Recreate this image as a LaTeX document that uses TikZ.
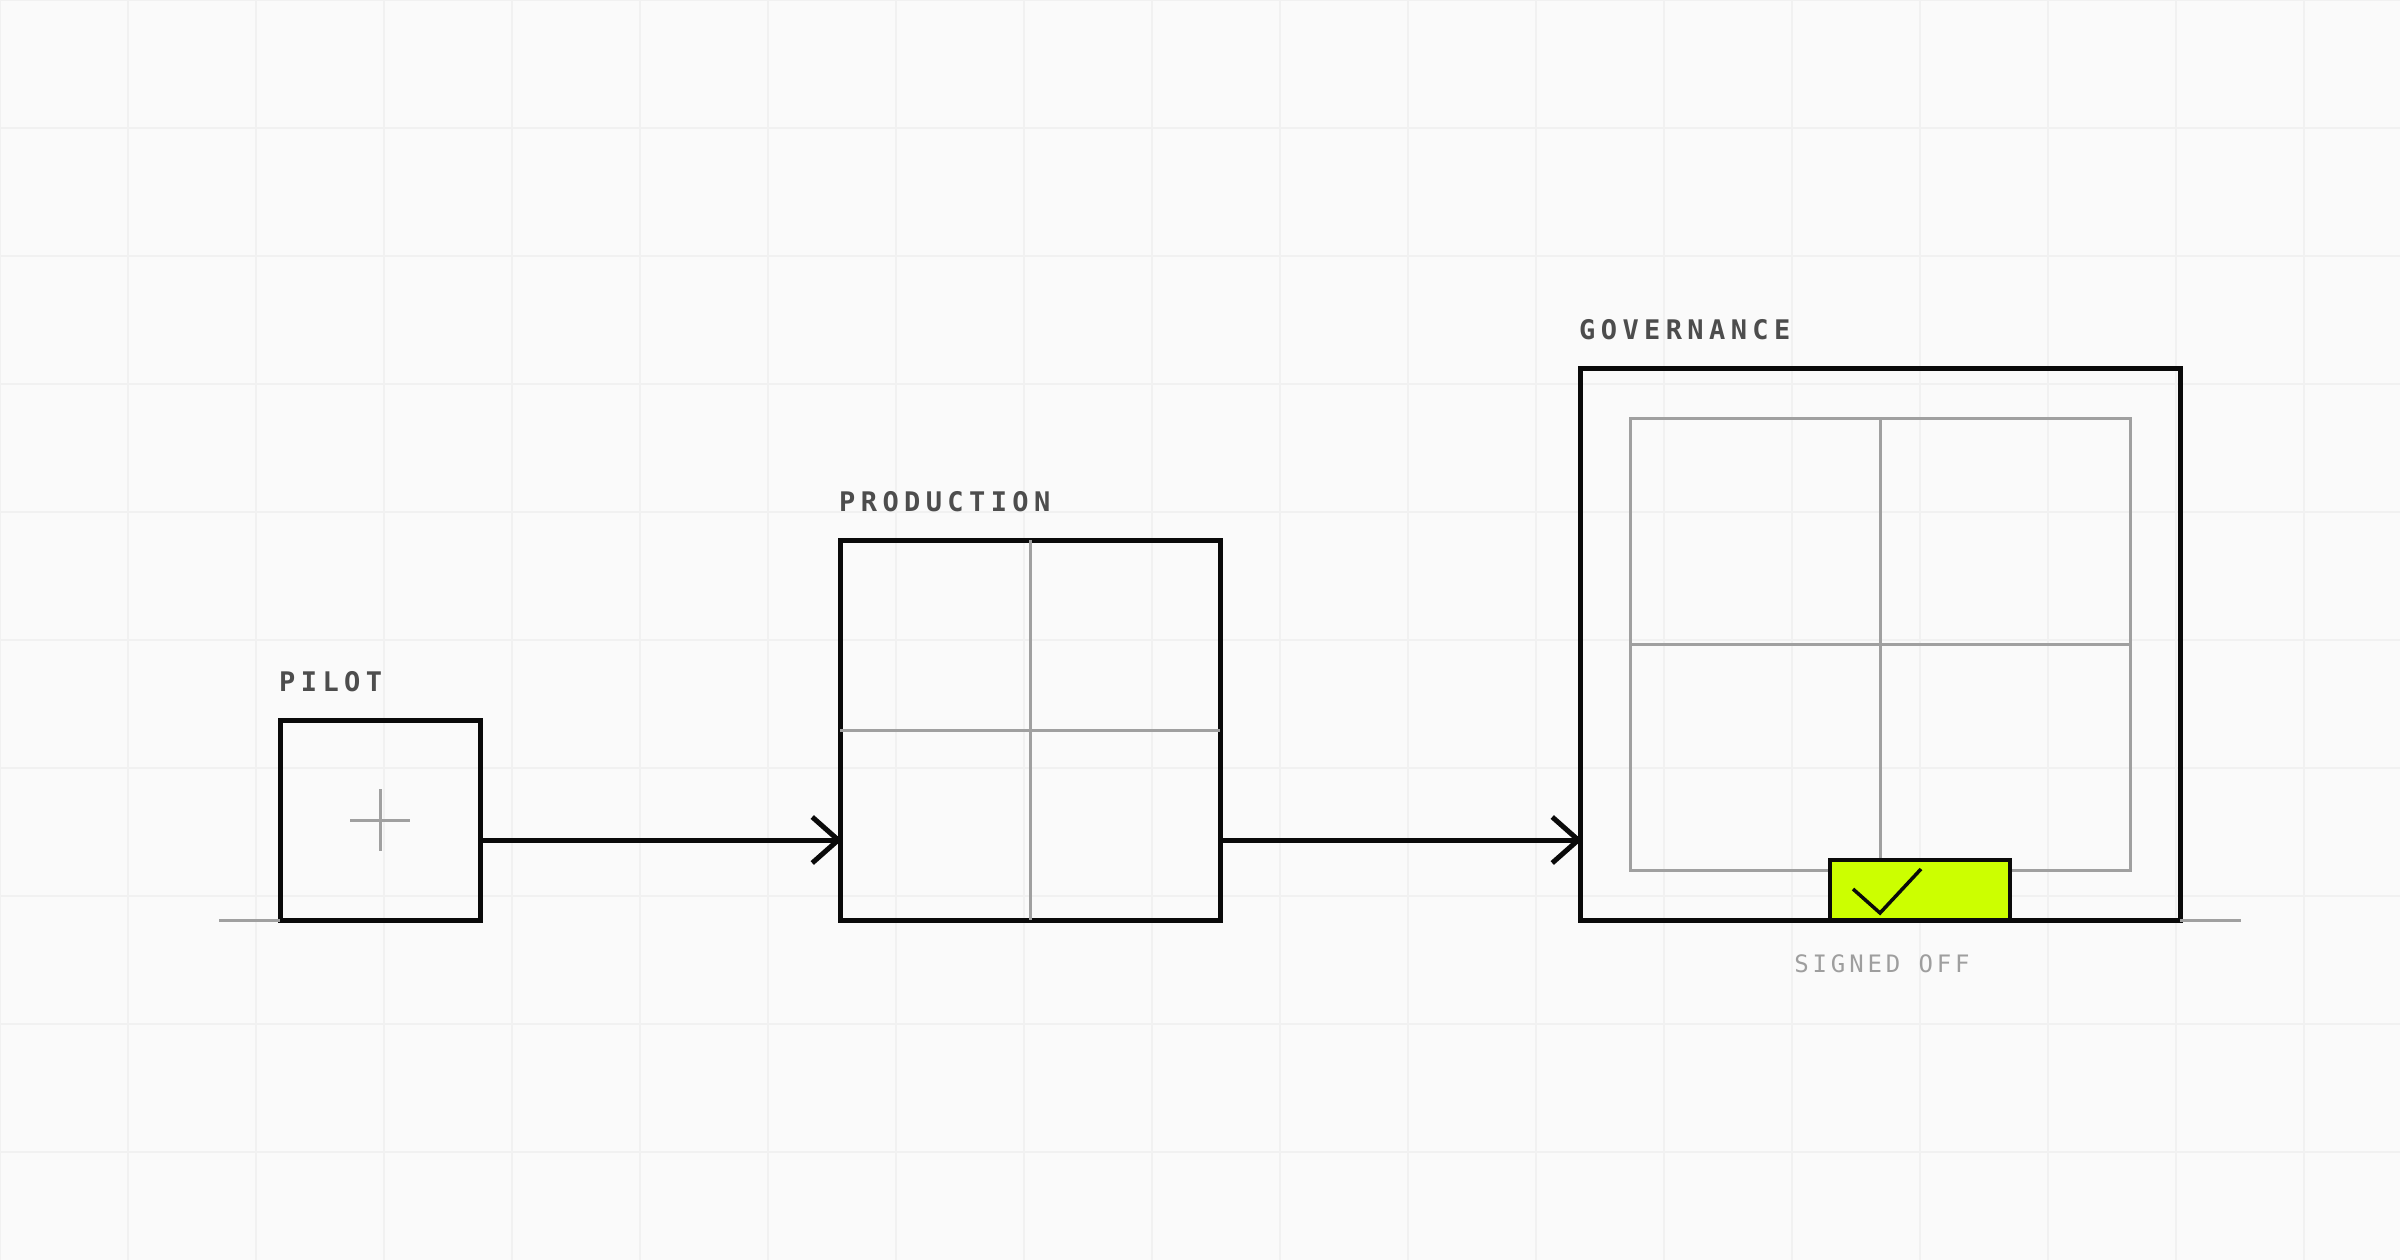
\documentclass[tikz,border=0pt]{standalone}
\usepackage{fontspec}
\usetikzlibrary{arrows.meta}
\newfontfamily\lblfont[LetterSpace=20]{DejaVu Sans Mono}
\newfontfamily\subfont[LetterSpace=16]{DejaVu Sans Mono}
\definecolor{bg}{HTML}{FAFAFA}
\definecolor{gridc}{HTML}{F1F1F1}
\definecolor{ink}{HTML}{0A0A0A}
\definecolor{greyl}{HTML}{A0A0A0}
\definecolor{lblc}{HTML}{4D4D4D}
\definecolor{subc}{HTML}{9E9E9E}
\definecolor{lime}{HTML}{CCFF00}
\tikzset{
  bigbox/.style={draw=ink, line width=5pt, inner sep=0pt, outer sep=0pt, line join=miter},
  greyline/.style={draw=greyl, line width=3pt},
  lbl/.style={font=\lblfont\bfseries\fontsize{27}{27}\selectfont, text=lblc, inner sep=0pt, anchor=base west},
  sublbl/.style={font=\subfont\fontsize{24}{24}\selectfont, text=subc, inner sep=0pt, anchor=base},
  flow/.style={draw=ink, line width=5pt, shorten >=-2pt, -{Straight Barb[length=26pt, width=46pt, line join=miter]}},
}
\begin{document}
\begin{tikzpicture}[x=1pt, y=-1pt]
\useasboundingbox (0,0) rectangle (2400,1260);
\fill[bg] (0,0) rectangle (2400,1260);
% grid
\foreach \gx in {0,128,...,2400} { \draw[gridc, line width=2pt] (\gx,0) -- (\gx,1260); }
\foreach \gy in {0,128,...,1260} { \draw[gridc, line width=2pt] (0,\gy) -- (2400,\gy); }

% boxes
\node[bigbox, minimum width=200pt, minimum height=200pt] (pilot) at (380,820) {};
\node[bigbox, minimum width=380pt, minimum height=380pt] (prod) at (1030,730) {};
\node[bigbox, minimum width=600pt, minimum height=552pt] (gov) at (1880,644) {};

% baseline stubs
\coordinate (stubL) at (219,920);
\coordinate (stubR) at (2241,920);
\draw[greyline] (stubL) -- (pilot.south west);
\draw[greyline] (gov.south east) -- (stubR);

% pilot cross
\draw[greyline] ([xshift=-30pt]pilot.center) -- ([xshift=30pt]pilot.center);
\draw[greyline] ([yshift=31pt]pilot.center) -- ([yshift=-31pt]pilot.center);

% production inner grid
\draw[greyline] (prod.north) -- (prod.south);
\draw[greyline] (prod.west) -- (prod.east);

% governance inner
\node[draw=greyl, line width=3pt, inner sep=0pt, outer sep=0pt, minimum width=500pt, minimum height=452pt] (inner) at (1880,644) {};
\draw[greyline] (inner.north) -- (inner.south);
\draw[greyline] (inner.west) -- (inner.east);

% signed-off badge
\node[draw=ink, fill=lime, line width=4pt, inner sep=0pt, outer sep=0pt, minimum width=180pt, minimum height=60pt] (badge) at (1920,890) {};
\coordinate (c1) at (1853,889);
\coordinate (c2) at (1880,913);
\coordinate (c3) at (1921,869);
\draw[ink, line width=3.5pt] (c1) -- (c2) -- (c3);

% arrows
\coordinate (a1s) at (pilot.east |- 0,840);
\coordinate (a1e) at (prod.west |- 0,840);
\coordinate (a2s) at (prod.east |- 0,840);
\coordinate (a2e) at (gov.west |- 0,840);
\draw[flow] (a1s) -- (a1e);
\draw[flow] (a2s) -- (a2e);

% labels
\node[lbl] (pilotlbl) at (279,691) {PILOT};
\node[lbl] (prodlbl) at (839,511) {PRODUCTION};
\node[lbl] (govlbl) at (1579,339) {GOVERNANCE};
\node[sublbl] (signed) at (1882,972) {SIGNED OFF};
\end{tikzpicture}
\end{document}
